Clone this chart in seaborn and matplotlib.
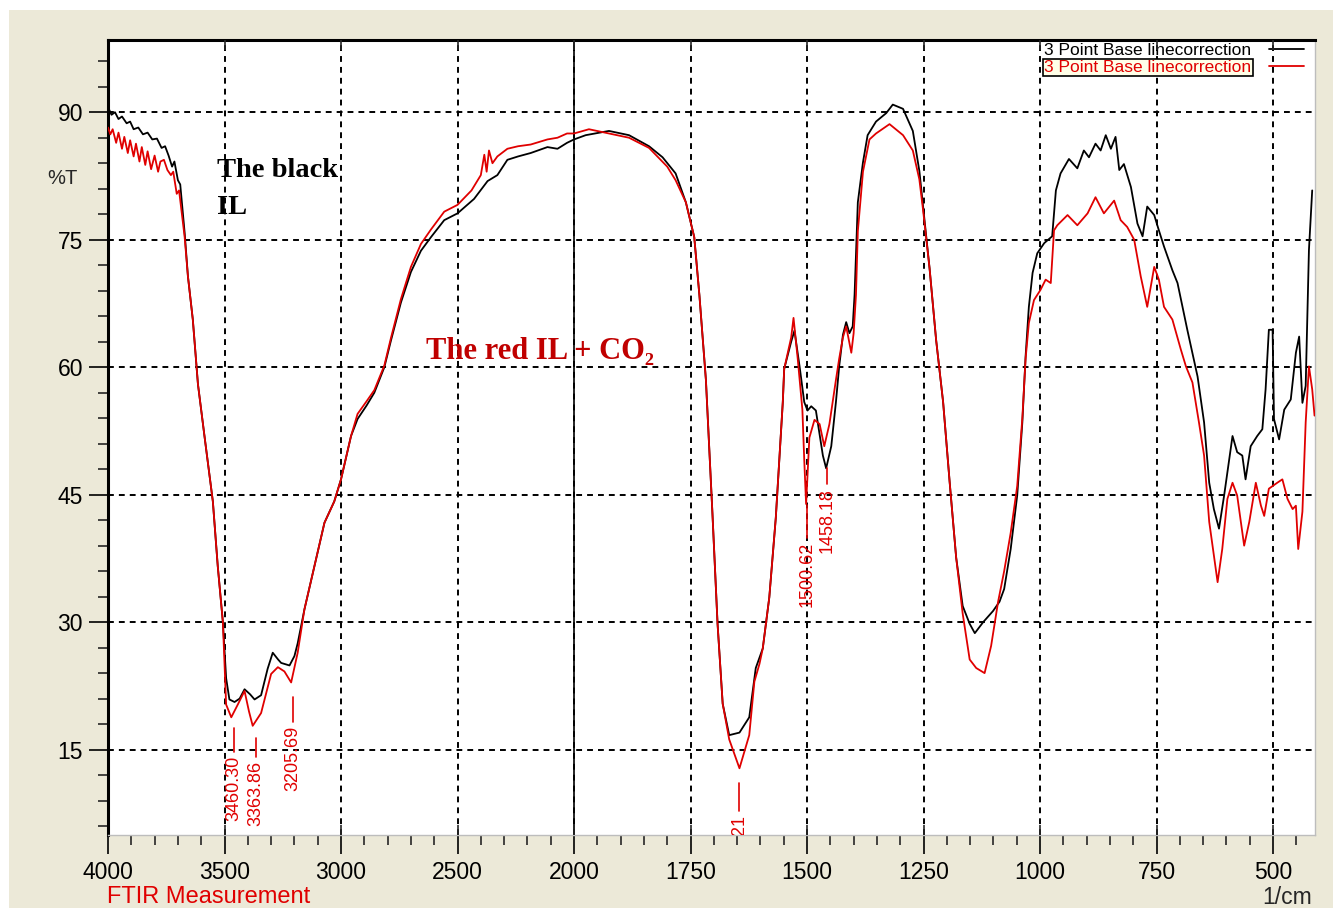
import numpy as np
import pandas as pd
import matplotlib
matplotlib.use("Agg")
import matplotlib.pyplot as plt
import seaborn as sns
from matplotlib.patches import Rectangle
from matplotlib.ticker import FixedLocator, FixedFormatter, NullFormatter

# ---------------- data ----------------
wn_black = [4000, 3985, 3970, 3955, 3940, 3920, 3905, 3890, 3870, 3850, 3830, 3810, 3790, 3770, 3755,
            3740, 3725, 3715, 3700, 3690, 3671, 3657, 3636, 3614, 3586, 3550, 3529, 3507, 3493, 3479,
            3457, 3435, 3414, 3390, 3371, 3343, 3315, 3293, 3270, 3257, 3221, 3200, 3186, 3157, 3114,
            3071, 3029, 3000, 2957, 2929, 2890, 2857, 2814, 2786, 2743, 2700, 2657, 2614, 2557, 2500,
            2429, 2371, 2329, 2286, 2240, 2186, 2114, 2071, 2030, 2000, 1975, 1925, 1882, 1839, 1810,
            1782, 1760, 1742, 1731, 1717, 1703, 1692, 1681, 1667, 1645, 1624, 1610, 1595, 1581, 1567,
            1552, 1549, 1534, 1527, 1516, 1506, 1499, 1491, 1481, 1466, 1459, 1448, 1438, 1431, 1423,
            1416, 1409, 1402, 1398, 1391, 1380, 1370, 1352, 1330, 1316, 1294, 1273, 1259, 1251, 1237,
            1223, 1208, 1194, 1180, 1166, 1151, 1140, 1122, 1101, 1087, 1077, 1063, 1049, 1038, 1031,
            1024, 1016, 1006, 991, 974, 966, 956, 938, 920, 906, 895, 881, 870, 859, 848,
            838, 830, 820, 805, 791, 780, 770, 755, 745, 734, 716, 705, 684, 662, 648,
            637, 627, 616, 605, 587, 577, 566, 559, 548, 534, 523, 516, 509, 501, 498,
            487, 476, 462, 451, 444, 437, 430, 423, 416]
t_black = [90.6, 89.7, 90.0, 89.2, 89.5, 88.7, 88.9, 88.0, 88.2, 87.4, 87.6, 86.8, 86.9, 85.8, 86.0,
           84.9, 83.6, 84.2, 82.0, 81.5, 75.8, 70.7, 65.6, 58.0, 51.9, 44.2, 36.6, 30.0, 23.4, 20.9,
           20.6, 21.0, 22.1, 21.5, 20.9, 21.4, 24.5, 26.4, 25.6, 25.2, 24.9, 26.0, 27.5, 31.5, 36.6,
           41.7, 44.2, 46.8, 51.9, 53.9, 55.5, 57.0, 60.0, 63.1, 67.6, 71.2, 73.7, 75.3, 77.3, 78.1,
           79.8, 81.9, 82.6, 84.4, 84.8, 85.2, 85.9, 85.7, 86.4, 86.8, 87.3, 87.8, 87.3, 86.0, 84.7,
           82.8, 79.4, 75.3, 68.5, 58.5, 42.8, 29.8, 20.4, 16.7, 17.0, 18.8, 24.6, 26.9, 32.9, 42.3,
           55.9, 59.8, 63.0, 64.3, 60.1, 55.9, 54.9, 55.4, 54.9, 49.6, 48.1, 50.7, 55.9, 60.1, 63.8,
           65.3, 64.0, 64.8, 68.5, 79.4, 84.1, 87.3, 88.9, 89.9, 90.9, 90.4, 87.8, 83.1, 78.9, 71.6,
           63.2, 55.9, 46.5, 37.6, 31.9, 29.8, 28.7, 30.0, 31.3, 32.4, 33.9, 38.6, 44.9, 53.5, 61.3,
           67.1, 71.1, 73.4, 74.6, 75.4, 80.8, 82.8, 84.5, 83.4, 85.5, 84.7, 86.3, 85.5, 87.3, 85.7,
           87.1, 83.2, 83.9, 81.2, 76.9, 75.4, 78.9, 77.9, 76.1, 74.2, 71.4, 69.9, 64.4, 58.9, 53.5,
           46.4, 43.3, 41.0, 44.9, 51.9, 50.0, 49.6, 46.8, 50.7, 51.9, 52.7, 57.4, 64.4, 64.4, 53.9,
           51.5, 55.0, 56.2, 61.7, 63.6, 55.8, 57.8, 73.8, 80.8]

wn_red = [4000, 3990, 3980, 3965, 3955, 3940, 3930, 3915, 3905, 3890, 3880, 3865, 3855, 3840, 3830,
          3815, 3800, 3785, 3775, 3760, 3745, 3730, 3720, 3705, 3695, 3671, 3657, 3636, 3614, 3586,
          3550, 3529, 3507, 3493, 3471, 3443, 3414, 3395, 3379, 3343, 3300, 3271, 3243, 3214, 3186,
          3157, 3114, 3071, 3029, 3000, 2957, 2929, 2890, 2857, 2814, 2786, 2743, 2700, 2657, 2614,
          2557, 2500, 2440, 2400, 2385, 2375, 2365, 2350, 2329, 2286, 2240, 2186, 2114, 2071, 2030,
          2000, 1968, 1925, 1882, 1839, 1800, 1782, 1760, 1742, 1731, 1717, 1703, 1692, 1681, 1667,
          1645, 1624, 1613, 1602, 1595, 1581, 1567, 1552, 1549, 1534, 1529, 1520, 1510, 1506, 1502,
          1495, 1484, 1473, 1463, 1452, 1438, 1431, 1423, 1416, 1405, 1400, 1395, 1391, 1380, 1366,
          1352, 1323, 1294, 1273, 1259, 1251, 1237, 1223, 1208, 1194, 1180, 1166, 1151, 1137, 1119,
          1105, 1090, 1077, 1063, 1049, 1038, 1031, 1024, 1013, 999, 988, 977, 970, 963, 941,
          920, 898, 881, 863, 841, 827, 813, 798, 784, 770, 755, 745, 734, 716, 698,
          687, 673, 659, 648, 637, 627, 619, 609, 598, 587, 577, 562, 551, 537, 526,
          519, 509, 491, 480, 469, 458, 451, 446, 437, 430, 423, 416, 411]
t_red = [88.2, 87.4, 88.0, 86.4, 87.6, 85.7, 87.1, 85.2, 86.7, 84.8, 86.3, 84.2, 85.9, 83.8, 85.4,
         83.3, 84.9, 83.0, 84.2, 84.4, 83.2, 82.6, 83.0, 80.4, 80.8, 75.3, 70.7, 65.6, 58.0, 51.9,
         44.2, 36.6, 30.0, 20.3, 18.8, 20.3, 21.9, 19.5, 17.8, 19.3, 23.9, 24.7, 24.2, 22.9, 26.4,
         31.5, 36.6, 41.7, 44.2, 46.8, 51.9, 54.5, 56.0, 57.3, 60.2, 63.4, 68.0, 71.8, 74.5, 76.2,
         78.3, 79.1, 80.8, 82.6, 85.0, 83.0, 85.5, 84.0, 84.8, 85.7, 86.0, 86.2, 86.8, 87.0, 87.5,
         87.5, 88.0, 87.5, 87.0, 85.8, 83.6, 82.0, 79.4, 75.3, 68.5, 58.5, 42.8, 29.8, 20.4, 16.2,
         12.8, 16.7, 23.0, 25.1, 26.9, 32.9, 42.3, 55.9, 59.8, 63.5, 65.8, 61.0, 55.0, 49.1, 43.9,
         51.7, 53.8, 53.3, 50.7, 53.3, 58.5, 61.0, 63.5, 64.8, 61.7, 64.0, 68.5, 76.0, 83.0, 86.8,
         87.5, 88.6, 87.3, 85.5, 82.1, 78.5, 71.6, 63.2, 55.9, 46.5, 37.6, 31.0, 25.6, 24.6, 24.0,
         27.2, 32.4, 36.0, 40.5, 46.0, 54.0, 61.0, 65.2, 67.9, 69.1, 70.3, 69.9, 76.1, 76.7, 77.9,
         76.7, 78.1, 80.0, 78.1, 79.6, 77.3, 76.5, 75.0, 70.7, 67.1, 71.8, 70.3, 67.1, 65.6, 62.1,
         60.1, 58.2, 53.5, 49.6, 41.8, 37.9, 34.7, 38.6, 44.5, 46.4, 44.9, 39.0, 41.8, 46.4, 43.7,
         42.5, 45.7, 46.4, 46.8, 44.5, 43.3, 43.7, 38.6, 43.0, 53.5, 60.1, 57.4, 54.3]

series_labels = ["3 Point Base linecorrection", "3 Point Base linecorrection"]

peak_labels = ["3460.30", "3363.86", "3205.69", "1643.21", "1500.62", "1458.18"]
peak_wn = [3460, 3364, 3206, 1645, 1500, 1457]

x_major = [4000, 3500, 3000, 2500, 2000, 1750, 1500, 1250, 1000, 750, 500]
x_major_labels = ["4000", "3500", "3000", "2500", "2000", "1750", "1500", "1250", "1000", "750", "500"]
y_major = [15, 30, 45, 60, 75, 90]

# ---------------- layout / style ----------------
W, H = 1333, 908
BEIGE = "#ECE9D8"
RED = "#E00000"
DARKRED = "#C00000"

sns.set_style("white")
plt.rcParams["font.family"] = ["Liberation Sans", "DejaVu Sans"]

fig = plt.figure(figsize=(W / 100, H / 100), dpi=100, facecolor="white")
fig.patches.append(Rectangle((9 / W, 0), 1, 1 - 10 / H, transform=fig.transFigure,
                             facecolor=BEIGE, edgecolor="none", zorder=-10))

L, R, T, B = 108, 1315, 40, 835
ax = fig.add_axes([L / W, 1 - B / H, (R - L) / W, (B - T) / H])
ax.set_facecolor("white")


def fwd(x):
    x = np.asarray(x, dtype=float)
    return np.where(x > 2000, 2000 + (x - 2000) * 0.5, x)


def inv(u):
    u = np.asarray(u, dtype=float)
    return np.where(u > 2000, 2000 + (u - 2000) * 2.0, u)


ax.set_xscale("function", functions=(fwd, inv))

df_b = pd.DataFrame({"wn": wn_black, "T": t_black})
df_r = pd.DataFrame({"wn": wn_red, "T": t_red})
sns.lineplot(data=df_b, x="wn", y="T", ax=ax, color="black", lw=1.3, sort=False,
             estimator=None, label=series_labels[0], zorder=4)
sns.lineplot(data=df_r, x="wn", y="T", ax=ax, color=RED, lw=1.3, sort=False,
             estimator=None, label=series_labels[1], zorder=5)

ax.set_xlim(4000, 410)
ax.set_ylim(4.95, 98.5)

# ticks
x_minor = list(range(3900, 2000, -100)) + [m for m in range(1950, 400, -50) if m % 250 != 0]
x_minor = [m for m in x_minor if m % 500 != 0 or m < 2000]
ax.xaxis.set_major_locator(FixedLocator(x_major))
ax.xaxis.set_major_formatter(FixedFormatter(x_major_labels))
ax.xaxis.set_minor_locator(FixedLocator(x_minor))
ax.xaxis.set_minor_formatter(NullFormatter())
ax.yaxis.set_major_locator(FixedLocator(y_major))
ax.yaxis.set_minor_locator(FixedLocator([v for v in range(6, 98, 3) if v % 15 != 0]))
ax.tick_params(axis="both", which="major", direction="out", length=14, width=1.2,
               labelsize=16.5, colors="black")
ax.tick_params(axis="both", which="minor", direction="out", length=7, width=1.2)
ax.tick_params(axis="x", which="major", pad=5)
ax.tick_params(axis="y", which="major", pad=4)
ax.tick_params(bottom=True, left=True, which="both")
ax.set_xlabel("")
ax.set_ylabel("")

# inner ticks (top and bottom) via twin axis
ax2 = ax.twiny()
ax2.set_xscale("function", functions=(fwd, inv))
ax2.set_xlim(4000, 410)
ax2.xaxis.set_major_locator(FixedLocator(x_major[1:]))
ax2.xaxis.set_minor_locator(FixedLocator([]))
ax2.tick_params(axis="x", which="major", direction="in", length=7, width=1.2,
                top=True, bottom=True, labeltop=False, labelbottom=False)
for s in ax2.spines.values():
    s.set_visible(False)
ax2.patch.set_visible(False)

# grid
for xv in x_major[1:]:
    ax.axvline(xv, color="black", lw=1.4, ls=(0, (3.0, 2.6)), zorder=1)
for yv in y_major:
    ax.axhline(yv, color="black", lw=1.4, ls=(0, (3.0, 2.6)), zorder=1)
ax.axvline(2000, color="black", lw=1.2, zorder=2)

# spines
for side in ["left", "top"]:
    ax.spines[side].set_color("black")
    ax.spines[side].set_linewidth(2.2)
for side in ["right", "bottom"]:
    ax.spines[side].set_color("#BDBDBD")
    ax.spines[side].set_linewidth(1.0)

# peak labels
line_spans = [(17.5, 14.7), (16.4, 14.1), (21.2, 18.2), (11.1, 7.8), (43.8, 39.9), (48.1, 46.2)]
for lab, xw, (y0, y1) in zip(peak_labels, peak_wn, line_spans):
    ax.plot([xw, xw], [y0, y1], color=RED, lw=1.2, zorder=6)
    ax.text(xw, y1 - 0.4, lab, rotation=90, ha="center", va="top", color=RED,
            fontsize=13, clip_on=True, zorder=6)

# annotations
ax.text(3533, 84.6, "The black\nIL", ha="left", va="top", fontsize=20.5, fontweight="bold",
        family=["Liberation Serif", "DejaVu Serif"], color="black", linespacing=1.6, zorder=7)
ax.text(2634, 61.8, "The red IL + CO\u2082", ha="left", va="center", fontsize=22, fontweight="bold",
        family=["Liberation Serif", "DejaVu Serif"], color=DARKRED, zorder=7)

# legend
leg = ax.legend(loc="upper right", bbox_to_anchor=(0.992, 0.999), frameon=False,
                markerfirst=False, fontsize=12.5, handlelength=2.0, handletextpad=1.0,
                labelspacing=0.12, borderpad=0.1, borderaxespad=0.0)
texts = leg.get_texts()
texts[0].set_color("black")
texts[1].set_color(RED)
texts[1].set_bbox(dict(facecolor="#FFFFE8", edgecolor="black", linewidth=1.2, pad=1.0))

# outside texts
fig.text(62 / W, 1 - 178 / H, "%T", ha="center", va="center", fontsize=14.5)
fig.text(107 / W, 1 - 897 / H, "FTIR Measurement", ha="left", va="center", fontsize=17, color=RED)
fig.text(1312 / W, 1 - 897 / H, "1/cm", ha="right", va="center", fontsize=16.5)

fig.savefig("out.png", dpi=100, facecolor="white")
